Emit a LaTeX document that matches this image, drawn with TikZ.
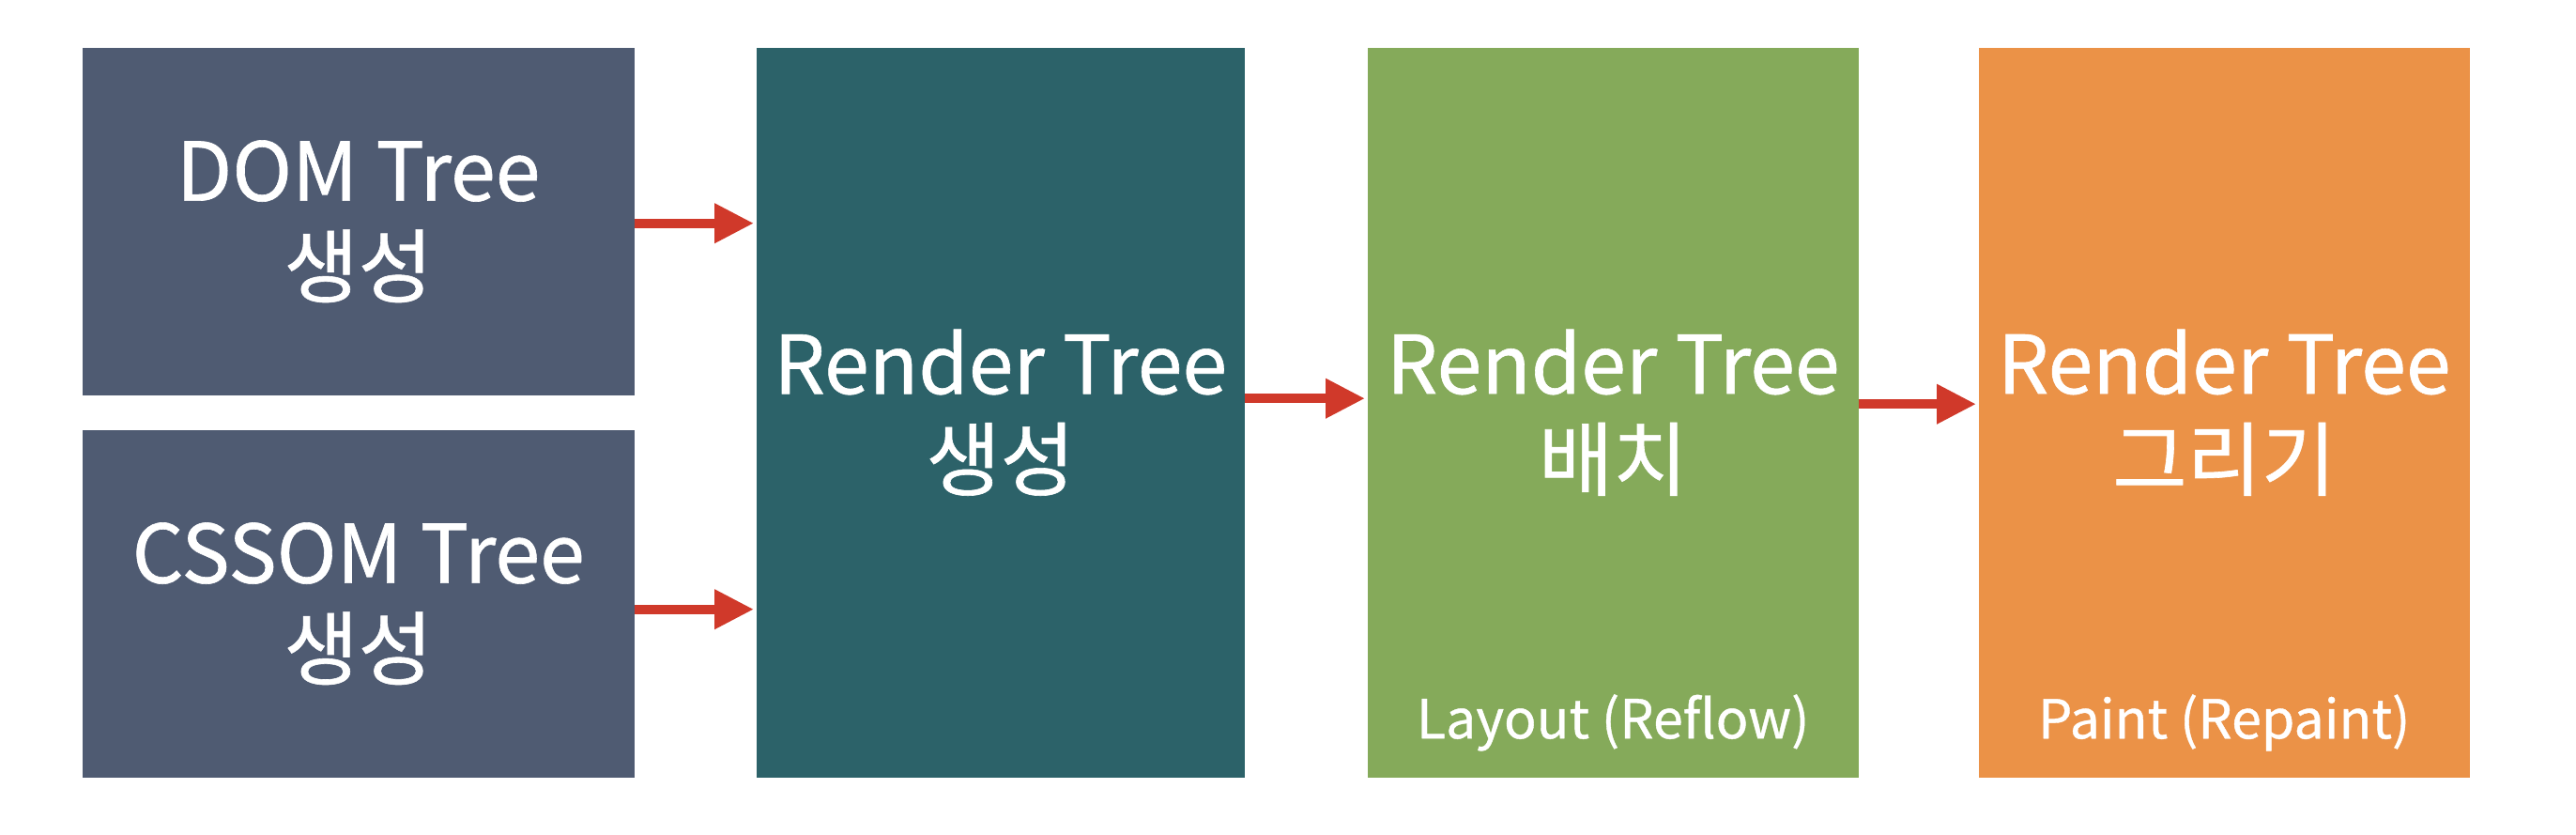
\documentclass[tikz,border=0pt]{standalone}
\usepackage{fontspec}
\setmainfont{Noto Sans CJK KR}
\newfontfamily\medfont{Noto Sans CJK KR}[FakeBold=0.7]
\usetikzlibrary{arrows.meta}
\definecolor{slate}{HTML}{4F5B72}
\definecolor{teal2}{HTML}{2C6269}
\definecolor{green2}{HTML}{85AA5A}
\definecolor{orange2}{HTML}{EB9247}
\definecolor{arrred}{HTML}{D0392A}
\begin{document}
\begin{tikzpicture}[x=1cm,y=1cm,
  box/.style={rectangle, anchor=north west, inner sep=0pt, text=white, align=center,
    font=\medfont\fontsize{24.5}{29}\selectfont},
  small/.style={text=white, font=\medfont\fontsize{16.3}{20}\selectfont, inner sep=0pt},
  arr/.style={draw=arrred, line width=0.1cm, -{Triangle[length=0.42cm,width=0.4cm]}, shorten >=0.02cm}]
\useasboundingbox[fill=white] (0,0) rectangle (27.44,-8.88);
\node[box, fill=slate, minimum width=5.88cm, minimum height=3.70cm] (dom) at (0.87,-0.50) {DOM Tree\\생성};
\node[box, fill=slate, minimum width=5.88cm, minimum height=3.70cm] (cssom) at (0.87,-4.57) {CSSOM Tree\\생성};
\node[box, fill=teal2, minimum width=5.20cm, minimum height=7.77cm] (render) at (8.05,-0.50) {Render Tree\\생성};
\node[box, fill=green2, minimum width=5.23cm, minimum height=7.77cm] (layout) at (14.56,-0.50) {Render Tree\\배치};
\node[box, fill=orange2, minimum width=5.23cm, minimum height=7.77cm] (paint) at (21.07,-0.50) {Render Tree\\그리기};
\node[small] (layoutlbl) at ([yshift=0.59cm]layout.south) {Layout (Reflow)};
\node[small] (paintlbl) at ([yshift=0.59cm]paint.south) {Paint (Repaint)};
\draw[arr] ([yshift=-0.02cm]dom.east) -- ([yshift=-0.02cm]render.west |- dom.east);
\draw[arr] ([yshift=-0.06cm]cssom.east) -- ([yshift=-0.06cm]render.west |- cssom.east);
\draw[arr] ([yshift=0.15cm]render.east) -- ([yshift=0.15cm]layout.west);
\draw[arr] ([yshift=0.09cm]layout.east) -- ([yshift=0.09cm]paint.west);
\end{tikzpicture}
\end{document}
